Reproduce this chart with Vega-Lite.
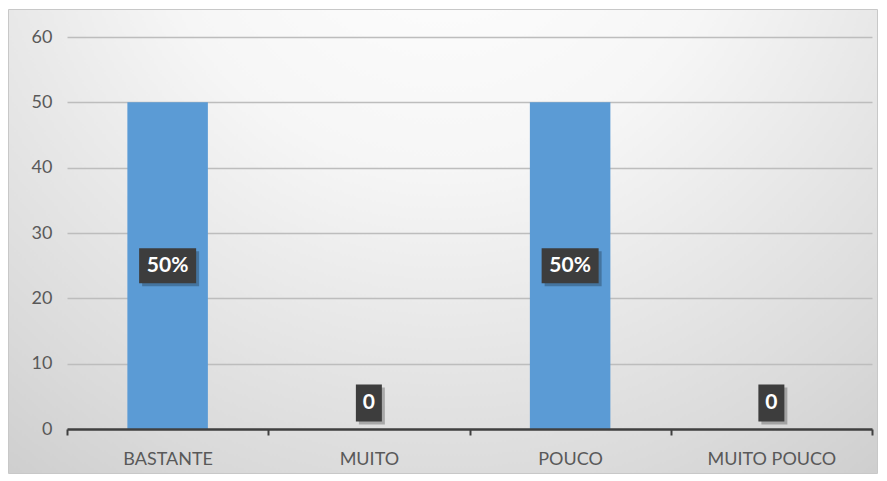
{
  "$schema": "https://vega.github.io/schema/vega-lite/v6.json",
  "width": 869,
  "height": 464,
  "autosize": {"type": "none"},
  "padding": {"left": 8, "top": 9, "right": 10, "bottom": 8},
  "background": "white",
  "config": {
    "font": "Lato",
    "view": {
      "fill": {
        "gradient": "radial",
        "x1": 0.5, "y1": 0.08, "r1": 0,
        "x2": 0.5, "y2": 0.08, "r2": 0.95,
        "stops": [
          {"offset": 0, "color": "#ffffff"},
          {"offset": 0.35, "color": "#f6f6f6"},
          {"offset": 0.75, "color": "#dadada"},
          {"offset": 1, "color": "#c6c6c6"}
        ]
      },
      "stroke": "#c8c8c8",
      "strokeWidth": 1
    }
  },
  "data": {
    "values": [
      {"cat": "BASTANTE", "value": 50, "label": "50%"},
      {"cat": "MUITO", "value": 0, "label": "0"},
      {"cat": "POUCO", "value": 50, "label": "50%"},
      {"cat": "MUITO POUCO", "value": 0, "label": "0"}
    ]
  },
  "encoding": {
    "x": {
      "field": "cat",
      "type": "nominal",
      "sort": null,
      "scale": {"range": [59, 864], "paddingInner": 0, "paddingOuter": 0},
      "axis": {
        "title": null,
        "orient": "bottom",
        "offset": -44,
        "zindex": 1,
        "labelAngle": 0,
        "labelFont": "Lato",
        "labelFontSize": 18,
        "labelColor": "#595959",
        "labelPadding": 15,
        "domainColor": "#404040",
        "domainWidth": 2.5,
        "tickBand": "extent",
        "tickColor": "#404040",
        "tickWidth": 2,
        "tickSize": 6,
        "grid": false
      }
    }
  },
  "layer": [
    {
      "mark": {"type": "bar", "color": "#5B9BD5", "width": {"band": 0.4}},
      "encoding": {
        "y": {
          "field": "value",
          "type": "quantitative",
          "scale": {"domain": [0, 60], "range": [420, 28], "nice": false},
          "axis": {
            "title": null,
            "orient": "left",
            "offset": -59,
            "values": [0, 10, 20, 30, 40, 50, 60],
            "domain": false,
            "ticks": false,
            "tickSize": 0,
            "labelPadding": 15,
            "labelFont": "Lato",
            "labelFontSize": 18,
            "labelColor": "#595959",
            "grid": true,
            "gridColor": "#bdbdbd",
            "gridWidth": 1.5
          }
        }
      }
    },
    {
      "transform": [
        {"filter": "datum.value > 0"},
        {"calculate": "datum.value / 2", "as": "mid"}
      ],
      "encoding": {
        "y": {"field": "mid", "type": "quantitative"}
      },
      "layer": [
        {
          "mark": {"type": "point", "filled": true, "shape": "M-1,-0.614L1,-0.614L1,0.614L-1,0.614Z", "size": 3249, "color": "#000000", "opacity": 0.25, "strokeWidth": 0, "xOffset": 3, "yOffset": 3}
        },
        {
          "mark": {"type": "point", "filled": true, "shape": "M-1,-0.614L1,-0.614L1,0.614L-1,0.614Z", "size": 3249, "color": "#3d3d3d", "opacity": 1, "strokeWidth": 0}
        },
        {
          "mark": {"type": "text", "font": "Lato", "fontWeight": "bold", "fontSize": 21, "fill": "#ffffff", "align": "center", "baseline": "middle"},
          "encoding": {"text": {"field": "label"}}
        }
      ]
    },
    {
      "transform": [
        {"filter": "datum.value == 0"}
      ],
      "encoding": {
        "y": {"field": "value", "type": "quantitative"}
      },
      "layer": [
        {
          "mark": {"type": "point", "filled": true, "shape": "M-0.456,-0.65L0.456,-0.65L0.456,0.65L-0.456,0.65Z", "size": 3249, "color": "#000000", "opacity": 0.25, "strokeWidth": 0, "xOffset": 3, "yOffset": -23}
        },
        {
          "mark": {"type": "point", "filled": true, "shape": "M-0.456,-0.65L0.456,-0.65L0.456,0.65L-0.456,0.65Z", "size": 3249, "color": "#3d3d3d", "opacity": 1, "strokeWidth": 0, "yOffset": -26}
        },
        {
          "mark": {"type": "text", "font": "Lato", "fontWeight": "bold", "fontSize": 21, "fill": "#ffffff", "align": "center", "baseline": "middle", "yOffset": -26},
          "encoding": {"text": {"field": "label"}}
        }
      ]
    }
  ]
}
